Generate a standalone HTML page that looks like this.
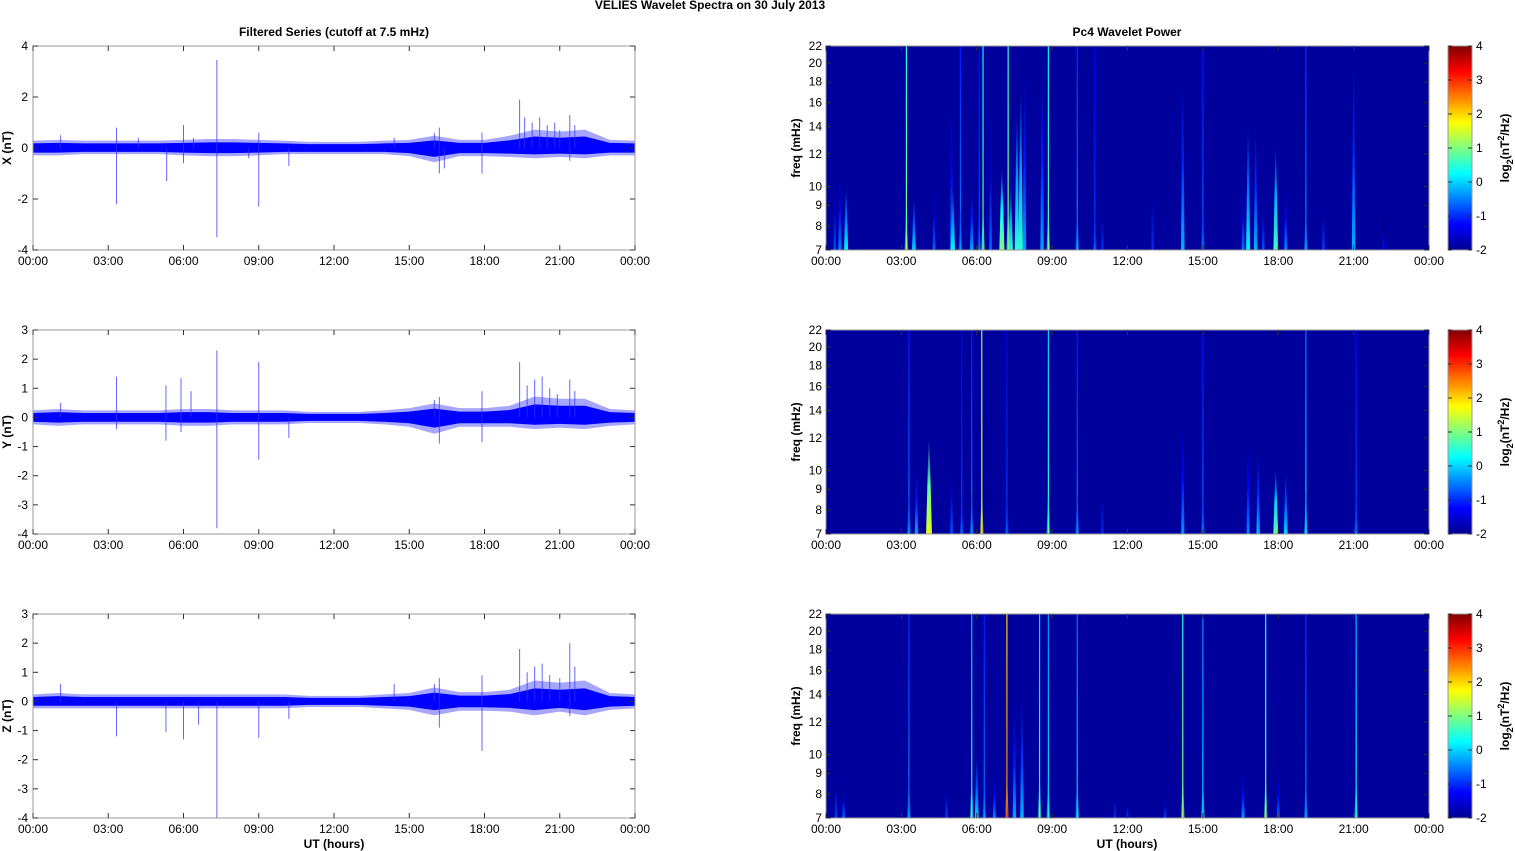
<!DOCTYPE html>
<html><head><meta charset="utf-8"><style>
body{margin:0;background:#fff;}
svg{display:block;font-family:"Liberation Sans",sans-serif;}
</style></head><body>
<svg id="fig" width="1515" height="851" viewBox="0 0 1515 851">
<defs>
<linearGradient id="jet" x1="0" y1="1" x2="0" y2="0">
<stop offset="0" stop-color="#00008f"/><stop offset="0.125" stop-color="#0000ff"/><stop offset="0.375" stop-color="#00ffff"/><stop offset="0.625" stop-color="#ffff00"/><stop offset="0.875" stop-color="#ff0000"/><stop offset="1" stop-color="#800000"/>
</linearGradient>
</defs>
<text x="710" y="9" font-size="12" font-weight="bold" text-anchor="middle">VELIES Wavelet Spectra on 30 July      2013</text>
<text x="334" y="36" font-size="12" font-weight="bold" text-anchor="middle">Filtered Series (cutoff at 7.5 mHz)</text>
<text x="1127" y="36" font-size="12" font-weight="bold" text-anchor="middle">Pc4 Wavelet Power</text>
<text x="334" y="848" font-size="12" font-weight="bold" text-anchor="middle">UT (hours)</text>
<text x="1127" y="848" font-size="12" font-weight="bold" text-anchor="middle">UT (hours)</text>
</svg>
<script>
// ---- data ----
const timeTickLabels = ["00:00","03:00","06:00","09:00","12:00","15:00","18:00","21:00","00:00"];
const envHours = [0,1,2,3,4,5,6,7,8,9,10,11,12,13,14,15,16,17,18,19,20,21,22,23,24];
const xUpper = [0.18,0.2,0.18,0.18,0.18,0.18,0.2,0.22,0.22,0.2,0.18,0.15,0.15,0.15,0.18,0.2,0.3,0.2,0.2,0.3,0.45,0.4,0.45,0.2,0.18];
const xLower = [-0.18,-0.18,-0.15,-0.15,-0.15,-0.15,-0.18,-0.2,-0.2,-0.18,-0.15,-0.15,-0.15,-0.15,-0.15,-0.2,-0.35,-0.2,-0.2,-0.22,-0.25,-0.22,-0.25,-0.18,-0.18];
const yUpper = [0.15,0.18,0.15,0.15,0.15,0.15,0.18,0.18,0.15,0.15,0.15,0.12,0.12,0.12,0.15,0.2,0.3,0.2,0.2,0.25,0.45,0.4,0.4,0.18,0.15];
const yLower = [-0.15,-0.18,-0.15,-0.15,-0.15,-0.15,-0.18,-0.18,-0.15,-0.15,-0.15,-0.12,-0.12,-0.12,-0.15,-0.2,-0.35,-0.2,-0.2,-0.2,-0.25,-0.22,-0.25,-0.18,-0.15];
const zUpper = [0.15,0.18,0.15,0.15,0.15,0.15,0.15,0.15,0.15,0.15,0.15,0.12,0.12,0.12,0.15,0.18,0.3,0.2,0.2,0.25,0.45,0.4,0.45,0.18,0.15];
const zLower = [-0.15,-0.15,-0.15,-0.15,-0.15,-0.15,-0.15,-0.15,-0.15,-0.15,-0.15,-0.12,-0.12,-0.12,-0.15,-0.18,-0.3,-0.2,-0.2,-0.22,-0.3,-0.22,-0.3,-0.18,-0.15];
const xSpikeT = [1.1,3.33,3.33,4.2,5.33,6.0,6.0,6.4,7.33,7.33,8.6,9.0,9.0,10.2,14.4,16.0,16.2,16.2,16.4,17.9,17.9,19.4,19.6,19.9,20.2,20.5,20.8,21.0,21.4,21.4,21.6];
const xSpikeV = [0.5,0.8,-2.2,0.4,-1.3,0.9,-0.6,0.4,3.45,-3.5,-0.4,0.6,-2.3,-0.7,0.4,0.6,0.8,-1.0,-0.8,0.6,-1.0,1.9,1.2,1.0,1.2,0.9,1.0,0.7,1.3,-0.5,0.9];
const ySpikeT = [1.1,3.33,3.33,5.3,5.3,5.9,5.9,6.3,7.33,7.33,9.0,9.0,10.2,16.0,16.2,16.2,17.9,17.9,19.4,19.7,20.0,20.3,20.6,20.9,21.4,21.6];
const ySpikeV = [0.5,1.4,-0.4,1.1,-0.8,1.35,-0.5,0.9,2.3,-3.8,1.9,-1.45,-0.7,0.6,0.7,-0.9,0.9,-0.85,1.9,1.1,1.3,1.4,1.0,0.8,1.3,0.9];
const zSpikeT = [1.1,3.33,5.3,6.0,6.6,7.33,9.0,10.2,14.4,16.0,16.2,16.2,17.9,17.9,19.4,19.7,20.0,20.3,20.6,21.0,21.4,21.4,21.6];
const zSpikeV = [0.6,-1.2,-1.05,-1.3,-0.8,-4.0,-1.25,-0.6,0.6,0.6,0.8,-0.9,0.9,-1.7,1.8,1.0,1.2,1.3,0.9,0.8,2.0,-0.5,1.2];
const freqTicks = [7,8,9,10,12,14,16,18,20,22];
const cbarTicks = [-2,-1,0,1,2,3,4];
// wavelet events: time (h), top frequency (mHz), peak log2 power
const w1Time = [0.35,0.55,0.8,3.2,3.5,4.3,5.0,5.05,5.35,5.8,6.1,6.25,6.55,7.0,7.25,7.35,7.6,7.75,7.9,8.6,8.85,10.0,10.7,11.0,13.0,14.2,15.0,16.6,16.8,17.1,17.4,17.9,18.3,19.1,19.8,21.0,22.2];
const w1Top  = [10.5,11,10,22,9.5,10,17,10,22,10,22,22,16,11,22,10,15,17,19,19,22,22,22,10,12,18,22,10,14,14,10,12.5,10,22,10,20,9];
const w1Pow  = [-0.8,-0.5,0.2,1.2,0,-0.7,-0.5,0.3,-0.3,-0.3,-0.5,1.0,-0.7,1.0,1.3,0.5,0.5,0.5,-0.3,-0.3,1.0,-0.2,-0.6,-1.0,-1.0,-0.2,-0.4,-0.6,0.2,-0.2,-0.8,0.6,-0.5,-0.2,-0.9,-0.2,-1.2];
const w2Time = [3.3,3.6,4.1,5.0,5.4,5.8,6.2,7.2,8.85,10.0,11.0,14.2,15.0,16.8,17.2,17.9,18.3,19.1,21.1];
const w2Top  = [22,10,12,11,22,22,22,22,22,22,10,13,22,12,11,10,10,22,22];
const w2Pow  = [-0.3,-0.3,1.6,-0.8,-0.6,-0.3,1.9,-0.6,0.8,-0.3,-1.0,-0.4,-0.4,-0.5,-0.2,0.8,0.0,0.2,-0.5];
const w3Time = [0.4,0.7,3.3,4.8,5.8,6.0,6.3,6.7,7.2,7.5,7.8,8.5,8.85,10.0,11.5,12.0,13.5,14.2,15.0,16.6,17.5,18.0,19.1,21.1];
const w3Top  = [9.5,8.5,22,9,22,10,22,9,22,13,14,22,22,22,8.5,8,8,22,22,9,22,9,22,22];
const w3Pow  = [-0.9,-0.7,-0.2,-0.9,0.6,0.0,-0.3,-0.5,2.8,-0.3,-0.2,0.8,0.4,0.2,-1.0,-1.0,-0.9,1.3,0.3,-0.4,1.1,-0.6,-0.2,0.6];

// ---- helpers ----
const NS="http://www.w3.org/2000/svg";
const svg=document.getElementById('fig');
function mk(tag,attrs,parent){const e=document.createElementNS(NS,tag);for(const k in attrs)e.setAttribute(k,attrs[k]);(parent||svg).appendChild(e);return e;}
function jet(v){let t=(v+2)/6;t=Math.max(0,Math.min(1,t));
 const c=x=>Math.round(255*Math.max(0,Math.min(1,x)));
 const r=c(Math.min(4*t-1.5,-4*t+4.5)),g=c(Math.min(4*t-0.5,-4*t+3.5)),b=c(Math.min(4*t+0.5,-4*t+2.5));
 return `rgb(${r},${g},${b})`;}
const rows=[46,330,614], PH=204;
const LX0=33,LX1=635,RX0=826,RX1=1429;
const tx=(h,x0,x1)=>x0+h/24*(x1-x0);

function timeAxis(x0,x1,top,g){
 const bot=top+PH;
 timeTickLabels.forEach((lab,i)=>{const x=tx(i*3,x0,x1);
  mk('line',{x1:x,x2:x,y1:bot,y2:bot-5,stroke:'#333','stroke-width':1},g);
  mk('line',{x1:x,x2:x,y1:top,y2:top+5,stroke:'#333','stroke-width':1},g);
  const t=mk('text',{x:x,y:bot+15,'font-size':12,'text-anchor':'middle'},g);t.textContent=lab;
  
  
 });
}

// ---- left panels ----
const leftDefs=[["X (nT)",-4,4,[-4,-2,0,2,4],xUpper,xLower,xSpikeT,xSpikeV],
 ["Y (nT)",-4,3,[-4,-3,-2,-1,0,1,2,3],yUpper,yLower,ySpikeT,ySpikeV],
 ["Z (nT)",-4,3,[-4,-3,-2,-1,0,1,2,3],zUpper,zLower,zSpikeT,zSpikeV]];
leftDefs.forEach((d,i)=>{
 const [lab,lo,hi,ticks,up,low,st,sv]=d;const top=rows[i],bot=top+PH;
 const g=mk('g',{});
 
 
 const yv=v=>bot-(v-lo)/(hi-lo)*PH;
 mk('rect',{x:LX0,y:top,width:LX1-LX0,height:PH,fill:'#fff'},g);
 let pts=envHours.map((h,k)=>tx(h,LX0,LX1)+','+yv(up[k]*1.6));
 pts=pts.concat(envHours.map((h,k)=>tx(h,LX0,LX1)+','+yv(low[k]*1.6)).reverse());
 mk('polygon',{points:pts.join(' '),fill:'#0000ff','fill-opacity':0.35},g);
 pts=envHours.map((h,k)=>tx(h,LX0,LX1)+','+yv(up[k]));
 pts=pts.concat(envHours.map((h,k)=>tx(h,LX0,LX1)+','+yv(low[k])).reverse());
 const band=mk('polygon',{points:pts.join(' '),fill:'#0000ff'},g);
 
 
 st.forEach((h,k)=>{const x=tx(h,LX0,LX1);
  const s=mk('line',{x1:x,x2:x,y1:yv(0),y2:yv(sv[k]),stroke:'#3030ff','stroke-width':1,'stroke-opacity':0.75},g);
  
  
 });
 mk('rect',{x:LX0,y:top,width:LX1-LX0,height:PH,fill:'none',stroke:'#999','stroke-width':1},g);
 ticks.forEach(v=>{const y=yv(v);
  mk('line',{x1:LX0,x2:LX0+5,y1:y,y2:y,stroke:'#333'},g);
  mk('line',{x1:LX1,x2:LX1-5,y1:y,y2:y,stroke:'#333'},g);
  const t=mk('text',{x:LX0-5,y:y+4,'font-size':12,'text-anchor':'end'},g);t.textContent=v;
  
  
 });
 timeAxis(LX0,LX1,top,g);
 const yl=mk('text',{x:0,y:0,'font-size':12,'font-weight':'bold','text-anchor':'middle',transform:`translate(11,${top+PH/2}) rotate(-90)`},g);
 yl.textContent=lab;
 
 
});

// ---- right panels ----
const lf0=Math.log(7),lf1=Math.log(22);
const wDefs=[[w1Time,w1Top,w1Pow],[w2Time,w2Top,w2Pow],[w3Time,w3Top,w3Pow]];
wDefs.forEach((d,i)=>{
 const [T,F,P]=d;const top=rows[i],bot=top+PH;
 const fy=f=>bot-(Math.log(f)-lf0)/(lf1-lf0)*PH;
 const g=mk('g',{});
 
 
 mk('rect',{x:RX0,y:top,width:RX1-RX0,height:PH,fill:'#00009c'},g);
 T.forEach((h,k)=>{
  const x=tx(h,RX0,RX1),ytop=fy(F[k]),c=jet(P[k]);
  const gid=`wg${i}_${k}`;
  const lg=mk('linearGradient',{id:gid,x1:0,y1:1,x2:0,y2:0},svg.querySelector('defs'));
  const full=F[k]>=22;
  mk('stop',{offset:0,'stop-color':c},lg);
  mk('stop',{offset:full?0.3:0.5,'stop-color':full?jet(P[k]-0.4):jet(P[k]-0.8)},lg);
  mk('stop',{offset:1,'stop-color':full?jet(P[k]-0.8):'#00009c'},lg);
  let m;
  if(full){
   m=mk('rect',{x:x-0.6,y:top,width:1.2,height:PH,fill:`url(#${gid})`},g);
   mk('polygon',{points:`${x-1.8},${bot} ${x+1.8},${bot} ${x},${fy(9)}`,fill:`url(#${gid})`,'fill-opacity':0.6},g);
  } else {
   const w=Math.max(2,2.5+(P[k]+1)*1.3);
   m=mk('polygon',{points:`${x-w/2},${bot} ${x+w/2},${bot} ${x+0.4},${ytop} ${x-0.4},${ytop}`,fill:`url(#${gid})`},g);
  }
  
  
 });
 mk('rect',{x:RX0,y:top,width:RX1-RX0,height:PH,fill:'none',stroke:'#999'},g);
 freqTicks.forEach(f=>{const y=fy(f);
  mk('line',{x1:RX0,x2:RX0+5,y1:y,y2:y,stroke:'#333'},g);
  mk('line',{x1:RX1,x2:RX1-5,y1:y,y2:y,stroke:'#333'},g);
  const t=mk('text',{x:RX0-4,y:y+4,'font-size':12,'text-anchor':'end'},g);t.textContent=f;
  
  
 });
 timeAxis(RX0,RX1,top,g);
 const yl=mk('text',{x:0,y:0,'font-size':12,'font-weight':'bold','text-anchor':'middle',transform:`translate(800,${top+PH/2}) rotate(-90)`},g);
 yl.textContent='freq (mHz)';
 
 
 const cb=mk('rect',{x:1448,y:top,width:24,height:PH,fill:'url(#jet)',stroke:'#999'},g);
 
 
 cbarTicks.forEach(v=>{const y=bot-(v+2)/6*PH;
  mk('line',{x1:1448,x2:1452,y1:y,y2:y,stroke:'#333'},g);
  mk('line',{x1:1472,x2:1468,y1:y,y2:y,stroke:'#333'},g);
  const t=mk('text',{x:1476,y:y+4,'font-size':12},g);t.textContent=v;
  
  
 });
 const cl=mk('text',{x:0,y:0,'font-size':12,'font-weight':'bold','text-anchor':'middle',transform:`translate(1509,${top+PH/2}) rotate(-90)`},g);
 cl.innerHTML='log<tspan font-size="9" dy="4">2</tspan><tspan dy="-4">(nT</tspan><tspan font-size="9" dy="-5">2</tspan><tspan dy="5">/Hz)</tspan>';
 
 
});
</script>
</body></html>
